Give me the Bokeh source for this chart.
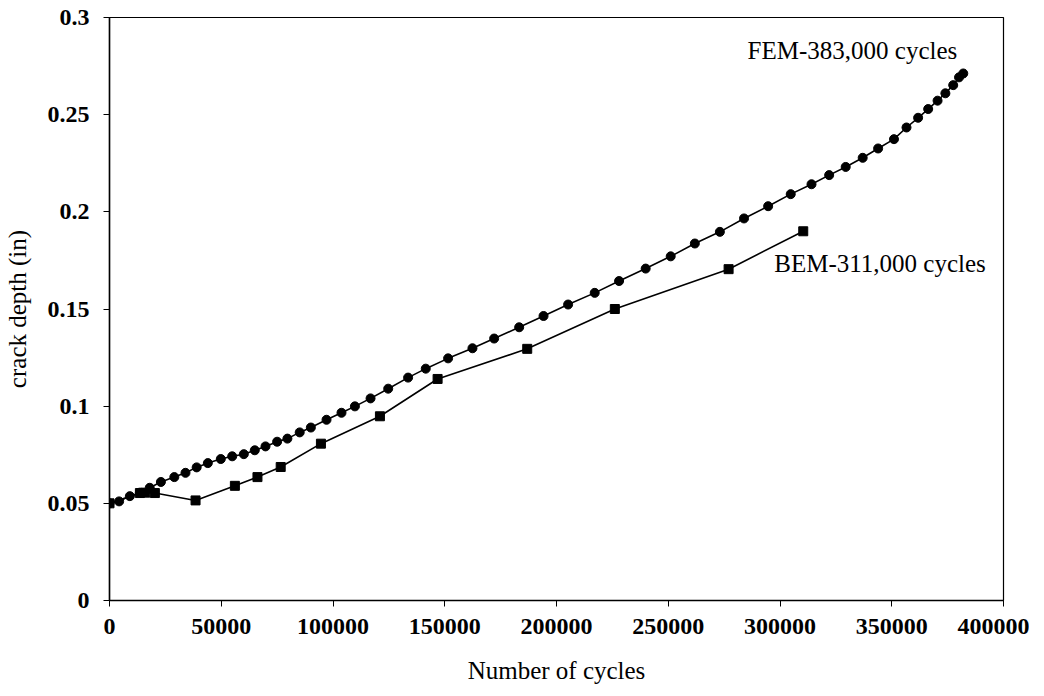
from bokeh.plotting import figure
from bokeh.embed import file_html
from bokeh.resources import INLINE
from bokeh.models import FixedTicker, Range1d
from bokeh.core.properties import value

# FEM prediction (circles)
fem_cycles = [0, 4300, 9100, 13600, 18000, 23000, 29000, 34000, 39000, 44000,
              49800, 54900, 60100, 65000, 69800, 75000, 79600, 85100, 90100, 97100,
              103800, 109800, 116800, 124700, 133600, 141500, 151500, 162400, 172100,
              183300, 194200, 205200, 217100, 228000, 239900, 251100, 261900, 273100,
              283900, 294700, 304800, 314100, 322000, 329400, 337000, 343900, 351000,
              356600, 361800, 366300, 370500, 374000, 377500, 380100, 382000]
fem_depth = [0.050, 0.051, 0.0537, 0.0555, 0.058, 0.061, 0.0635, 0.0657, 0.0685, 0.0707,
             0.0728, 0.0742, 0.0753, 0.0773, 0.0793, 0.0817, 0.0833, 0.0865, 0.089, 0.093,
             0.0966, 0.0999, 0.104, 0.109, 0.1147, 0.1193, 0.1246, 0.1298, 0.1348,
             0.1406, 0.1464, 0.1523, 0.1583, 0.1644, 0.1708, 0.1771, 0.1837, 0.1897,
             0.1966, 0.2029, 0.2091, 0.2142, 0.2189, 0.2231, 0.2278, 0.2326, 0.2374,
             0.2434, 0.2484, 0.2529, 0.2572, 0.261, 0.2652, 0.2692, 0.2712]

# BEM prediction (squares)
bem_cycles = [0, 13600, 16000, 20300, 38500, 56100, 66200, 76600, 94600, 121000,
              146800, 186900, 226100, 277000, 310400]
bem_depth = [0.050, 0.0553, 0.0555, 0.0553, 0.0515, 0.059, 0.0635, 0.0687, 0.0807, 0.0948,
             0.114, 0.1295, 0.150, 0.1705, 0.190]

x_ticks = [0, 50000, 100000, 150000, 200000, 250000, 300000, 350000, 400000]
x_tick_labels = {t: str(t) for t in x_ticks}
y_ticks = [0, 0.05, 0.1, 0.15, 0.2, 0.25, 0.3]
y_tick_labels = {0: "0", 0.05: "0.05", 0.1: "0.1", 0.15: "0.15", 0.2: "0.2", 0.25: "0.25", 0.3: "0.3"}

fem_label = "FEM-383,000 cycles"
bem_label = "BEM-311,000 cycles"

FONT = "Liberation Serif"

p = figure(frame_width=894, frame_height=583, output_backend="svg", toolbar_location=None,
           x_range=Range1d(0, 400000), y_range=Range1d(0, 0.3),
           min_border_left=100, min_border_right=26, min_border_top=17, min_border_bottom=78)
p.xgrid.visible = False
p.ygrid.visible = False
p.outline_line_color = "black"
p.outline_line_width = 1.2
p.background_fill_color = "white"
p.border_fill_color = "white"

p.line(fem_cycles, fem_depth, line_color="black", line_width=1.6)
p.scatter(fem_cycles, fem_depth, marker="circle", size=9, fill_color="black", line_color="black")
p.line(bem_cycles, bem_depth, line_color="black", line_width=1.6)
p.scatter(bem_cycles, bem_depth, marker="square", size=9, fill_color="black", line_color="black")

p.text(x=[fem_cycles[-1]], y=[fem_depth[-1]], text=[fem_label], text_align="right",
       text_baseline="bottom", x_offset=-6, y_offset=-9, text_font=value(FONT),
       text_font_size="25px", text_color="black")
p.text(x=[bem_cycles[-1]], y=[bem_depth[-1]], text=[bem_label], text_align="left",
       text_baseline="middle", x_offset=-29, y_offset=32, text_font=value(FONT),
       text_font_size="25px", text_color="black")

for ax in (p.xaxis[0], p.yaxis[0]):
    ax.axis_line_color = "black"
    ax.axis_line_width = 1.5
    ax.major_tick_line_color = "black"
    ax.major_tick_in = 0
    ax.major_tick_out = 6
    ax.minor_tick_line_color = None
    ax.major_label_text_font = FONT
    ax.major_label_text_font_size = "24px"
    ax.major_label_text_font_style = "bold"
    ax.major_label_text_color = "black"
    ax.axis_label_text_font = FONT
    ax.axis_label_text_font_size = "25px"
    ax.axis_label_text_font_style = "normal"
    ax.axis_label_text_color = "black"

p.xaxis.ticker = FixedTicker(ticks=x_ticks)
p.yaxis.ticker = FixedTicker(ticks=y_ticks)
p.xaxis.major_label_overrides = x_tick_labels
p.yaxis.major_label_overrides = y_tick_labels
p.xaxis.major_label_standoff = 12
p.yaxis.major_label_standoff = 14
p.xaxis.axis_label = "Number of cycles"
p.yaxis.axis_label = "crack depth (in)"
p.xaxis.axis_label_standoff = 20
p.yaxis.axis_label_standoff = 14

open("out.html", "w").write(file_html(p, INLINE))
